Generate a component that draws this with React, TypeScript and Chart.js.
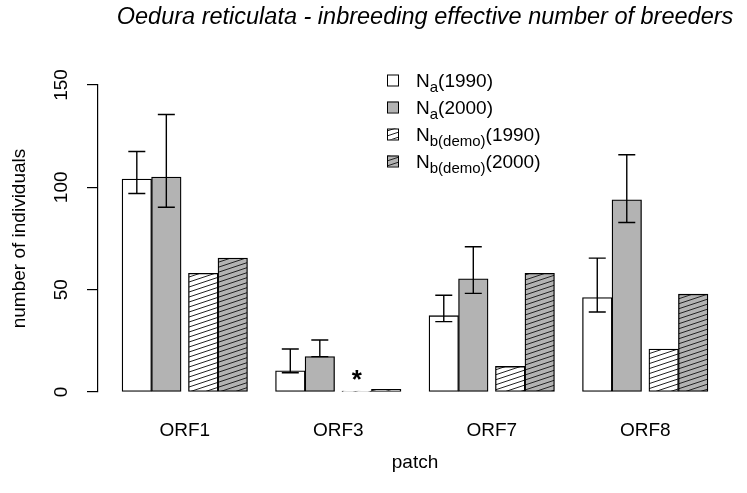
import { useEffect, useRef } from "react";
import { Chart, registerables } from "chart.js";

Chart.register(...registerables);

// ---- data ----
const categories = ["ORF1", "ORF3", "ORF7", "ORF8"];
const na1990 = [104, 10.4, 37.3, 46.1];
const na1990Low = [97, 9.4, 34.4, 39.1];
const na1990High = [117.5, 21, 47.3, 65.4];
const na2000 = [105, 17.3, 55.3, 93.9];
const na2000Low = [90.3, 17.3, 48.2, 82.8];
const na2000High = [135.6, 25.4, 71, 115.9];
const nbDemo1990 = [58, 0.5, 12.5, 21];
const nbDemo2000 = [65.4, 1.3, 58, 47.8];
const yTicks = [0, 50, 100, 150];
const legendParts = [
  { main: "N", sub: "a", rest: "(1990)" },
  { main: "N", sub: "a", rest: "(2000)" },
  { main: "N", sub: "b(demo)", rest: "(1990)" },
  { main: "N", sub: "b(demo)", rest: "(2000)" },
];
const annotations = [{ category: "ORF3", series: 2, text: "*" }];
const titleText = "Oedura reticulata - inbreeding effective number of breeders";
const yTitle = "number of individuals";
const xTitle = "patch";

// ---- layout constants (bar-width units) ----
const GROUP_STEP = 5.2;
const OFFSETS = [-1.625, -0.625, 0.625, 1.625];
const FONT = "'Liberation Sans', Arial, sans-serif";
const FS = 19;

function makeHatch(bg: string): CanvasPattern {
  const c = document.createElement("canvas");
  c.width = 15;
  c.height = 5;
  const g = c.getContext("2d")!;
  g.fillStyle = bg;
  g.fillRect(0, 0, 15, 5);
  g.strokeStyle = "#222";
  g.lineWidth = 1;
  for (let k = -1; k <= 2; k++) {
    g.beginPath();
    g.moveTo(-15, 10 + 5 * k);
    g.lineTo(30, -5 + 5 * k);
    g.stroke();
  }
  return g.createPattern(c, "repeat")!;
}

export default function App() {
  const ref = useRef<HTMLCanvasElement>(null);

  useEffect(() => {
    const canvas = ref.current!;
    const grey = "#b3b3b3";
    const toPts = (vals: number[], s: number) =>
      vals.map((v, i) => ({ x: i * GROUP_STEP + OFFSETS[s], y: v }));

    const common = {
      type: "bar" as const,
      grouped: false,
      barPercentage: 1,
      categoryPercentage: 1,
      borderColor: "#000",
      borderWidth: 1.3,
      borderSkipped: false,
    };

    const datasets: any[] = [
      { ...common, label: "Na(1990)", data: toPts(na1990, 0), backgroundColor: "#ffffff", errLow: na1990Low, errHigh: na1990High },
      { ...common, label: "Na(2000)", data: toPts(na2000, 1), backgroundColor: grey, errLow: na2000Low, errHigh: na2000High },
      { ...common, label: "Nb(demo)(1990)", data: toPts(nbDemo1990, 2), backgroundColor: makeHatch("#ffffff") },
      { ...common, label: "Nb(demo)(2000)", data: toPts(nbDemo2000, 3), backgroundColor: makeHatch(grey) },
    ];

    const errorBars = {
      id: "errorBars",
      afterDatasetsDraw(chart: any) {
        const ctx = chart.ctx;
        const ys = chart.scales.y;
        ctx.save();
        ctx.strokeStyle = "#000";
        ctx.lineWidth = 1.4;
        chart.data.datasets.forEach((ds: any, di: number) => {
          if (!ds.errLow) return;
          const meta = chart.getDatasetMeta(di);
          meta.data.forEach((el: any, i: number) => {
            const x = el.x;
            const y1 = ys.getPixelForValue(ds.errLow[i]);
            const y2 = ys.getPixelForValue(ds.errHigh[i]);
            const cap = 8.5;
            ctx.beginPath();
            ctx.moveTo(x, y1);
            ctx.lineTo(x, y2);
            ctx.moveTo(x - cap, y1);
            ctx.lineTo(x + cap, y1);
            ctx.moveTo(x - cap, y2);
            ctx.lineTo(x + cap, y2);
            ctx.stroke();
          });
        });
        ctx.restore();
      },
    };

    const extras = {
      id: "extras",
      afterDraw(chart: any) {
        const ctx = chart.ctx;
        const area = chart.chartArea;
        ctx.save();
        // title
        ctx.fillStyle = "#000";
        ctx.font = `italic 23.5px ${FONT}`;
        ctx.textAlign = "center";
        ctx.textBaseline = "alphabetic";
        ctx.fillText(titleText, (area.left + area.right) / 2 + 10, 24);

        // annotations
        annotations.forEach((a) => {
          const idx = categories.indexOf(a.category);
          const el = chart.getDatasetMeta(a.series).data[idx];
          ctx.font = `bold 26px ${FONT}`;
          ctx.textAlign = "center";
          ctx.textBaseline = "middle";
          ctx.fillText(a.text, el.x, el.y - 10);
        });

        // legend
        const boxX = 387;
        const textX = 416;
        const rowY0 = 80;
        const step = 27;
        chart.data.datasets.forEach((ds: any, i: number) => {
          const cy = rowY0 + i * step;
          ctx.fillStyle = ds.backgroundColor;
          ctx.fillRect(boxX, cy - 5.5, 11, 11);
          ctx.strokeStyle = "#000";
          ctx.lineWidth = 1;
          ctx.strokeRect(boxX + 0.5, cy - 5, 11, 11);
          const p = legendParts[i];
          ctx.fillStyle = "#000";
          ctx.textAlign = "left";
          ctx.textBaseline = "alphabetic";
          const base = cy + 7;
          ctx.font = `${FS}px ${FONT}`;
          let x = textX;
          ctx.fillText(p.main, x, base);
          x += ctx.measureText(p.main).width;
          ctx.font = `15px ${FONT}`;
          ctx.fillText(p.sub, x, base + 5);
          x += ctx.measureText(p.sub).width;
          ctx.font = `${FS}px ${FONT}`;
          ctx.fillText(p.rest, x, base);
        });
        ctx.restore();
      },
    };

    const chart = new Chart(canvas, {
      type: "bar",
      data: { datasets },
      options: {
        animation: false,
        responsive: false,
        devicePixelRatio: 1,
        layout: { padding: { top: 85, right: 15, left: 0, bottom: 0 } },
        plugins: {
          legend: { display: false },
          title: { display: false },
          tooltip: { enabled: false },
        },
        scales: {
          x: {
            type: "linear",
            min: -2.94,
            max: 18.54,
            offset: false,
            grid: { display: false, drawTicks: false },
            border: { display: false },
            ticks: {
              autoSkip: false,
              padding: 27,
              color: "#000",
              font: { family: FONT, size: FS },
              callback: (_v: any, i: number) => categories[i],
            },
            afterBuildTicks: (s: any) => {
              s.ticks = categories.map((_, i) => ({ value: i * GROUP_STEP }));
            },
            afterFit: (s: any) => {
              s.height = 101;
            },
            title: {
              display: true,
              text: xTitle,
              color: "#000",
              font: { family: FONT, size: FS },
              padding: { top: 0, bottom: 19 },
            },
          },
          y: {
            type: "linear",
            min: 0,
            max: 150,
            grid: { drawOnChartArea: false, drawTicks: true, tickLength: 11, color: "#000", lineWidth: 1.2 },
            border: { display: true, color: "#000", width: 1.2 },
            ticks: {
              minRotation: 90,
              maxRotation: 90,
              crossAlign: "center",
              padding: 9.5,
              color: "#000",
              font: { family: FONT, size: FS },
            },
            afterBuildTicks: (s: any) => {
              s.ticks = yTicks.map((v) => ({ value: v }));
            },
            afterFit: (s: any) => {
              s.width = 98;
            },
            title: {
              display: true,
              text: yTitle,
              color: "#000",
              font: { family: FONT, size: FS },
              padding: { top: 8.6, bottom: 0 },
            },
          },
        },
      } as any,
      plugins: [errorBars, extras],
    });

    return () => chart.destroy();
  }, []);

  return (
    <div style={{ position: "fixed", left: 0, top: 0, width: 747, height: 493, background: "#fff" }}>
      <canvas ref={ref} width={747} height={493} style={{ display: "block" }} />
    </div>
  );
}
